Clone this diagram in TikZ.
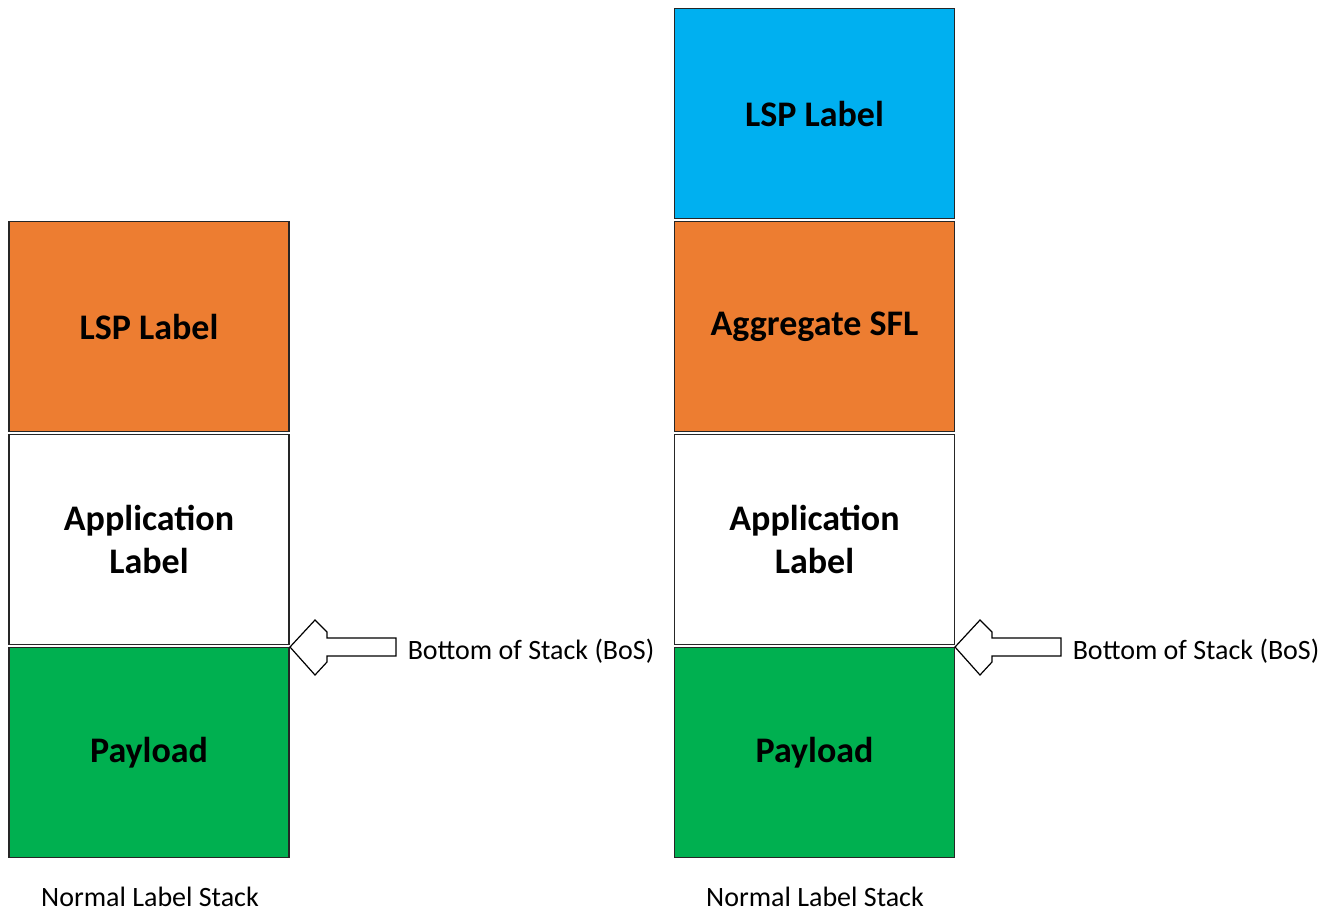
\documentclass[tikz,border=0pt]{standalone}
\usepackage{fontspec}
\setmainfont{Carlito}

\definecolor{lsporange}{HTML}{ED7D31}
\definecolor{lspblue}{HTML}{00B0F0}
\definecolor{payloadgreen}{HTML}{00B050}

\tikzset{every picture/.style={line width=0.75pt}}
\tikzset{
  stackbox/.style={draw=black!85, inner sep=0pt, minimum width=140pt, minimum height=105pt,
    align=center, font=\fontsize{18}{21.5}\selectfont\bfseries},
  captiontext/.style={inner sep=0pt, font=\fontsize{14}{17}\selectfont},
  bosarrow/.style={draw=black, fill=white, line width=0.6pt}
}

\begin{document}
\begin{tikzpicture}[x=0.5pt,y=0.5pt,yscale=-1]
\useasboundingbox (0,0) rectangle (1338,917);

% Left stack
\node[stackbox, fill=lsporange] (lsp1) at (149,326.5) {LSP Label};
\node[stackbox, fill=white] (app1) at (149,539.5) {Application\\Label};
\node[stackbox, fill=payloadgreen] (pay1) at (149,752.5) {Payload};
\node[captiontext] (cap1) at (150,897) {Normal Label Stack};

% Right stack
\node[stackbox, fill=lspblue] (lsp2) at (814.5,113.5) {LSP Label};
\node[stackbox, fill=lsporange] (agg2) at (814.5,326.5) {Aggregate SFL};
\node[stackbox, fill=white] (app2) at (814.5,539.5) {Application\\Label};
\node[stackbox, fill=payloadgreen] (pay2) at (814.5,752.5) {Payload};
\node[captiontext] (cap2) at (815,897) {Normal Label Stack};

% Bottom of stack arrows
\foreach \ox/\nm in {290/bos1, 955/bos2}{
  \draw[bosarrow] (\ox,647) -- ++(25,-27) -- ++(12,12) -- ++(0,6) -- ++(69,0)
    -- ++(0,18) -- ++(-69,0) -- ++(0,6) -- ++(-12,13) -- cycle;
  \node[captiontext, anchor=west] (\nm) at (\ox+117,651) {Bottom of Stack (BoS)};
}

\end{tikzpicture}
\end{document}
